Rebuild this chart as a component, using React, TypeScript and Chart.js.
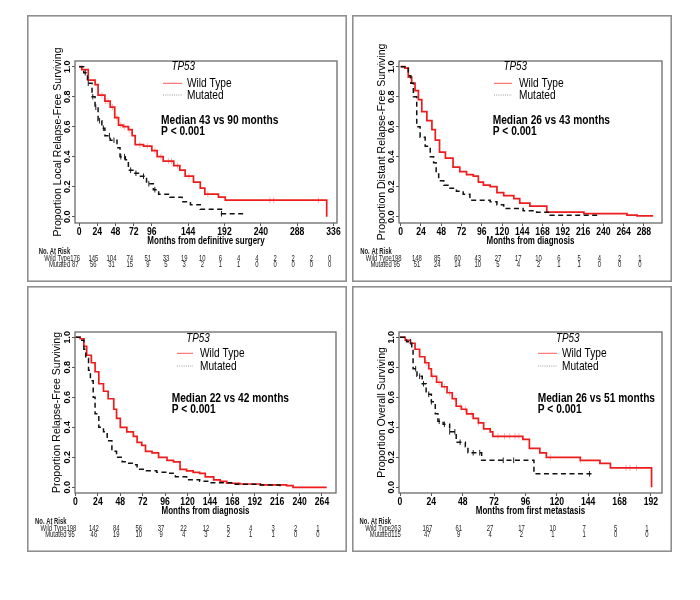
import React, { useEffect, useRef } from "react";
import { Chart, registerables } from "chart.js";

Chart.register(...registerables);

const FONT = '"Liberation Sans", Arial, Helvetica, sans-serif';
const RED = "#ee1c1c";
const BLACK = "#111111";

// ---------- Panel 1: local relapse-free ----------
const p1WildTime = [0, 3.5, 12, 21, 25, 34, 41, 47, 52, 58, 65, 70, 74, 85, 96, 103, 111, 125, 133, 140, 151, 160, 166, 184, 193, 327];
const p1WildSurv = [1, 0.98, 0.91, 0.88, 0.81, 0.77, 0.73, 0.66, 0.61, 0.6, 0.58, 0.54, 0.48, 0.47, 0.44, 0.4, 0.37, 0.34, 0.31, 0.27, 0.23, 0.19, 0.15, 0.13, 0.11, 0];
const p1MutTime = [0, 6, 11, 17, 21, 25, 30, 34, 41, 50, 54, 61, 65, 72, 81, 89, 98, 105, 120, 136, 147, 160, 188, 221];
const p1MutSurv = [1, 0.96, 0.89, 0.8, 0.73, 0.64, 0.59, 0.54, 0.51, 0.46, 0.4, 0.38, 0.31, 0.29, 0.27, 0.22, 0.18, 0.15, 0.13, 0.1, 0.08, 0.05, 0.02, 0.02];
const p1WildCensor = [30, 35, 38, 44, 50, 55, 60, 66, 80, 90, 100, 108, 118, 122, 130, 145, 170, 252, 257, 316];
const p1MutCensor = [8, 12, 18, 22, 27, 32, 40, 46, 55, 60, 68, 75, 85, 92, 100, 188];
const p1Ticks = [0, 24, 48, 72, 96, 144, 192, 240, 288, 336];
const p1RiskTimes = [0, 24, 48, 72, 96, 120, 144, 168, 192, 216, 240, 264, 288, 312, 336];
const p1RiskWild = [176, 145, 104, 74, 51, 33, 19, 10, 6, 4, 4, 2, 2, 2, 0];
const p1RiskMut = [87, 56, 31, 15, 9, 5, 3, 2, 1, 1, 0, 0, 0, 0, 0];

// ---------- Panel 2: distant relapse-free ----------
const p2WildTime = [0, 5, 9, 13, 17, 21, 25, 31, 37, 41, 46, 53, 62, 70, 78, 86, 92, 98, 106, 114, 122, 134, 141, 153, 161, 173, 181, 217, 248, 268, 280, 298];
const p2WildSurv = [1, 0.99, 0.93, 0.89, 0.84, 0.78, 0.7, 0.64, 0.58, 0.51, 0.43, 0.39, 0.33, 0.3, 0.28, 0.27, 0.23, 0.21, 0.2, 0.16, 0.14, 0.12, 0.09, 0.07, 0.07, 0.03, 0.03, 0.02, 0.02, 0.01, 0.005, 0];
const p2MutTime = [0, 3, 9, 12, 15, 19, 23, 29, 35, 39, 42, 45, 51, 57, 66, 74, 82, 106, 114, 122, 145, 161, 177, 236];
const p2MutSurv = [1, 1, 0.94, 0.89, 0.8, 0.6, 0.53, 0.47, 0.4, 0.36, 0.29, 0.24, 0.21, 0.19, 0.17, 0.15, 0.11, 0.1, 0.08, 0.055, 0.04, 0.03, 0.01, 0.01];
const p2WildCensor: number[] = [];
const p2MutCensor: number[] = [];
const p2Ticks = [0, 24, 48, 72, 96, 120, 144, 168, 192, 216, 240, 264, 288];
const p2RiskTimes = [0, 24, 48, 72, 96, 120, 144, 168, 192, 216, 240, 264, 288];
const p2RiskWild = [198, 148, 85, 60, 43, 27, 17, 10, 6, 5, 4, 2, 1];
const p2RiskMut = [95, 51, 24, 14, 10, 5, 4, 2, 1, 1, 0, 0, 0];

// ---------- Panel 3: relapse-free ----------
const p3WildTime = [0, 5, 9, 12, 17, 21, 25, 30, 35, 41, 44, 48, 55, 62, 66, 71, 75, 82, 89, 98, 105, 112, 119, 126, 133, 139, 148, 155, 162, 176, 198, 226, 233, 269];
const p3WildSurv = [1, 0.99, 0.94, 0.88, 0.83, 0.77, 0.69, 0.64, 0.59, 0.52, 0.46, 0.4, 0.37, 0.34, 0.3, 0.28, 0.24, 0.23, 0.2, 0.18, 0.17, 0.12, 0.11, 0.1, 0.093, 0.07, 0.05, 0.04, 0.027, 0.022, 0.016, 0.011, 0, 0];
const p3MutTime = [0, 5, 9, 11, 14, 16, 19, 21, 25, 30, 34, 39, 44, 50, 55, 62, 66, 76, 87, 101, 107, 119, 133, 144, 169, 198, 219];
const p3MutSurv = [1, 0.98, 0.92, 0.86, 0.78, 0.71, 0.6, 0.49, 0.4, 0.37, 0.31, 0.24, 0.2, 0.17, 0.16, 0.15, 0.12, 0.11, 0.1, 0.093, 0.07, 0.05, 0.04, 0.03, 0.02, 0.016, 0.005];
const p3WildCensor: number[] = [];
const p3MutCensor: number[] = [];
const p3Ticks = [0, 24, 48, 72, 96, 120, 144, 168, 192, 216, 240, 264];
const p3RiskTimes = [0, 24, 48, 72, 96, 120, 144, 168, 192, 216, 240, 264];
const p3RiskWild = [198, 142, 84, 56, 37, 22, 12, 5, 4, 3, 2, 1];
const p3RiskMut = [95, 46, 19, 10, 9, 4, 3, 2, 1, 1, 0, 0];

// ---------- Panel 4: overall survival ----------
const p4WildTime = [0, 4, 8, 11.5, 15, 19, 22, 24, 28, 32, 36, 40, 43, 47, 51, 56, 60, 64, 69, 71, 94, 99, 107, 112, 138, 153, 161, 192.5];
const p4WildSurv = [1, 0.98, 0.96, 0.92, 0.87, 0.83, 0.79, 0.74, 0.7, 0.67, 0.63, 0.59, 0.54, 0.52, 0.49, 0.46, 0.43, 0.39, 0.37, 0.34, 0.32, 0.26, 0.23, 0.2, 0.18, 0.16, 0.13, 0];
const p4MutTime = [0, 5, 9, 10, 13, 17, 20, 24, 27, 29, 33, 38, 43, 50, 52, 62.5, 102.5, 148];
const p4MutSurv = [1, 0.97, 0.92, 0.79, 0.74, 0.69, 0.62, 0.57, 0.49, 0.44, 0.42, 0.37, 0.3, 0.27, 0.23, 0.18, 0.09, 0.09];
const p4WildCensor = [20, 25, 30, 34, 38, 42, 46, 50, 55, 60, 75, 80, 84, 88, 91, 115, 138, 173, 176, 181];
const p4MutCensor = [8, 12, 15, 18, 22, 24, 30, 34, 38, 42, 46, 56, 61, 79, 87, 145];
const p4Ticks = [0, 24, 48, 72, 96, 120, 144, 168, 192];
const p4RiskTimes = [0, 24, 48, 72, 96, 120, 144, 168, 192];
const p4RiskWild = [263, 167, 61, 27, 17, 10, 7, 5, 1];
const p4RiskMut = [115, 47, 9, 4, 2, 1, 1, 0, 0];

const yTicks = [0, 0.2, 0.4, 0.6, 0.8, 1.0];

type Rect = { x: number; y: number; w: number; h: number };
type PanelCfg = {
  id: string;
  frame: Rect;
  box: { l: number; t: number; r: number; b: number };
  xMin: number; xMax: number; yMin: number; yMax: number;
  yTitle: string; xTitle: string; median: string;
  wildTime: number[]; wildSurv: number[]; mutTime: number[]; mutSurv: number[];
  wildCensor: number[]; mutCensor: number[];
  ticks: number[]; riskTimes: number[]; riskWild: number[]; riskMut: number[];
  leg: { tpX: number; tpY: number; lx0: number; lx1: number; tx: number; y1: number; y2: number; mx: number; my: number; py: number };
  yTitlePad: number;
};

const panels: PanelCfg[] = [
  {
    id: "p1", frame: { x: 27, y: 15, w: 320, h: 267 }, box: { l: 75, t: 61, r: 337, b: 223 },
    xMin: -5.5, xMax: 340.6, yMin: -0.042, yMax: 1.038,
    yTitle: "Proportion Local Relapse-Free Surviving", xTitle: "Months from definitive surgery", median: "Median 43 vs 90 months",
    wildTime: p1WildTime, wildSurv: p1WildSurv, mutTime: p1MutTime, mutSurv: p1MutSurv,
    wildCensor: p1WildCensor, mutCensor: p1MutCensor, ticks: p1Ticks, riskTimes: p1RiskTimes, riskWild: p1RiskWild, riskMut: p1RiskMut,
    leg: { tpX: 183.3, tpY: 66.7, lx0: 163, lx1: 182, tx: 187, y1: 83.3, y2: 95, mx: 161, my: 120.7, py: 131.7 },
    yTitlePad: 25,
  },
  {
    id: "p2", frame: { x: 352, y: 15, w: 320, h: 267 }, box: { l: 399, t: 61, r: 662, b: 223 },
    xMin: -2, xMax: 309.5, yMin: -0.042, yMax: 1.038,
    yTitle: "Proportion Distant Relapse-Free Surviving", xTitle: "Months from diagnosis", median: "Median 26 vs 43 months",
    wildTime: p2WildTime, wildSurv: p2WildSurv, mutTime: p2MutTime, mutSurv: p2MutSurv,
    wildCensor: p2WildCensor, mutCensor: p2MutCensor, ticks: p2Ticks, riskTimes: p2RiskTimes, riskWild: p2RiskWild, riskMut: p2RiskMut,
    leg: { tpX: 515.3, tpY: 66.7, lx0: 494, lx1: 512, tx: 519, y1: 83.3, y2: 95, mx: 492.7, my: 120.7, py: 131.7 },
    yTitlePad: 24,
  },
  {
    id: "p3", frame: { x: 27, y: 286, w: 320, h: 266 }, box: { l: 75, t: 332, r: 336, b: 493 },
    xMin: -0.5, xMax: 279, yMin: -0.038, yMax: 1.035,
    yTitle: "Proportion Relapse-Free Surviving", xTitle: "Months from diagnosis", median: "Median 22 vs 42 months",
    wildTime: p3WildTime, wildSurv: p3WildSurv, mutTime: p3MutTime, mutSurv: p3MutSurv,
    wildCensor: p3WildCensor, mutCensor: p3MutCensor, ticks: p3Ticks, riskTimes: p3RiskTimes, riskWild: p3RiskWild, riskMut: p3RiskMut,
    leg: { tpX: 198, tpY: 338.3, lx0: 177, lx1: 193, tx: 200, y1: 353.3, y2: 366, mx: 171.7, my: 398.7, py: 410 },
    yTitlePad: 24,
  },
  {
    id: "p4", frame: { x: 352, y: 286, w: 320, h: 266 }, box: { l: 399, t: 332, r: 662, b: 493 },
    xMin: -0.77, xMax: 200.5, yMin: -0.038, yMax: 1.035,
    yTitle: "Proportion Overall Surviving", xTitle: "Months from first metastasis", median: "Median 26 vs 51 months",
    wildTime: p4WildTime, wildSurv: p4WildSurv, mutTime: p4MutTime, mutSurv: p4MutSurv,
    wildCensor: p4WildCensor, mutCensor: p4MutCensor, ticks: p4Ticks, riskTimes: p4RiskTimes, riskWild: p4RiskWild, riskMut: p4RiskMut,
    leg: { tpX: 567.8, tpY: 338.3, lx0: 538, lx1: 557, tx: 562, y1: 353.3, y2: 366, mx: 537.7, my: 398.7, py: 410 },
    yTitlePad: 24,
  },
];

function survAt(times: number[], surv: number[], t: number) {
  let s = surv[0];
  for (let i = 0; i < times.length; i++) if (times[i] <= t) s = surv[i];
  return s;
}

const X_AXIS_H = 34;

// Draws horizontally condensed text (the reference's type is narrow)
function cText(ctx: CanvasRenderingContext2D, text: string, x: number, y: number, align: CanvasTextAlign, sx: number) {
  ctx.save();
  ctx.translate(x, y);
  ctx.scale(sx, 1);
  ctx.textAlign = align;
  ctx.textBaseline = "middle";
  ctx.fillText(text, 0, 0);
  ctx.restore();
}

function makeDecor(p: PanelCfg) {
  return {
    id: "decor_" + p.id,
    afterDraw(chart: any) {
      const ctx: CanvasRenderingContext2D = chart.ctx;
      const a = chart.chartArea;
      const xs = chart.scales.x;
      const ys = chart.scales.y;
      const ox = p.frame.x;
      const oy = p.frame.y;
      ctx.save();
      // plot box
      ctx.strokeStyle = "#6b6b6b";
      ctx.lineWidth = 1.3;
      ctx.strokeRect(a.left, a.top, a.right - a.left, a.bottom - a.top);
      // outer frame
      ctx.strokeStyle = "#8f8f8f";
      ctx.lineWidth = 1.6;
      ctx.strokeRect(0.8, 0.8, chart.width - 1.6, chart.height - 1.6);

      // rotated y tick labels
      ctx.fillStyle = "#000";
      ctx.font = `bold 9px ${FONT}`;
      ctx.textAlign = "center";
      ctx.textBaseline = "middle";
      ys.ticks.forEach((t: any) => {
        const py = ys.getPixelForValue(t.value);
        ctx.save();
        ctx.translate(a.left - 7, py);
        ctx.rotate(-Math.PI / 2);
        ctx.fillText(Number(t.value).toFixed(1), 0, 0);
        ctx.restore();
      });

      // x tick labels and x title (condensed type)
      ctx.font = `bold 10.5px ${FONT}`;
      xs.ticks.forEach((t: any) => {
        cText(ctx, String(t.value), xs.getPixelForValue(t.value), a.bottom + 9.3, "center", 0.82);
      });
      ctx.font = `bold 10px ${FONT}`;
      cText(ctx, p.xTitle, (a.left + a.right) / 2, a.bottom + 17.8, "center", 0.8);

      // legend
      const L = p.leg;
      ctx.font = `italic 13px ${FONT}`;
      cText(ctx, "TP53", L.tpX - ox, L.tpY - oy, "center", 0.76);
      ctx.lineWidth = 1;
      ctx.strokeStyle = "#ff5a5a";
      ctx.beginPath();
      ctx.moveTo(L.lx0 - ox, L.y1 - oy);
      ctx.lineTo(L.lx1 - ox, L.y1 - oy);
      ctx.stroke();
      ctx.strokeStyle = "#9a9a9a";
      ctx.setLineDash([1, 1.2]);
      ctx.beginPath();
      ctx.moveTo(L.lx0 - ox, L.y2 - oy);
      ctx.lineTo(L.lx1 - ox, L.y2 - oy);
      ctx.stroke();
      ctx.setLineDash([]);
      ctx.font = `13px ${FONT}`;
      cText(ctx, "Wild Type", L.tx - ox, L.y1 - oy, "left", 0.78);
      cText(ctx, "Mutated", L.tx - ox, L.y2 - oy, "left", 0.78);
      ctx.font = `bold 12px ${FONT}`;
      cText(ctx, p.median, L.mx - ox, L.my - oy, "left", 0.85);
      cText(ctx, "P < 0.001", L.mx - ox, L.py - oy, "left", 0.85);

      // number at risk table
      ctx.fillStyle = "#1a1a1a";
      const x0 = xs.getPixelForValue(0);
      const r0 = a.bottom + 28.5;
      const r1 = a.bottom + 35;
      const r2 = a.bottom + 41;
      const sx = 0.62;
      ctx.font = `bold 9.5px ${FONT}`;
      cText(ctx, "No. At Risk", x0 - 9, r0, "right", sx);
      ctx.font = `9.5px ${FONT}`;
      cText(ctx, "Wild Type", x0 - 9, r1, "right", sx);
      cText(ctx, "Mutated", x0 - 9, r2, "right", sx);
      p.riskTimes.forEach((t, i) => {
        const px = xs.getPixelForValue(t) - 4;
        cText(ctx, String(p.riskWild[i]), px, r1, "center", sx);
        cText(ctx, String(p.riskMut[i]), px, r2, "center", sx);
      });
      ctx.restore();
    },
  };
}

function buildConfig(p: PanelCfg): any {
  const box = { l: p.box.l - p.frame.x, t: p.box.t - p.frame.y, r: p.box.r - p.frame.x, b: p.box.b - p.frame.y };
  const wildPts = p.wildTime.map((t, i) => ({ x: t, y: p.wildSurv[i] }));
  const mutPts = p.mutTime.map((t, i) => ({ x: t, y: p.mutSurv[i] }));
  const wildC = p.wildCensor.map((t) => ({ x: t, y: survAt(p.wildTime, p.wildSurv, t) }));
  const mutC = p.mutCensor.map((t) => ({ x: t, y: survAt(p.mutTime, p.mutSurv, t) }));
  const gridOpts = { display: true, drawOnChartArea: false, drawTicks: true, tickLength: 3, color: "#555", lineWidth: 1 };
  return {
    type: "scatter",
    data: {
      datasets: [
        { type: "scatter", data: wildC, showLine: false, pointStyle: "line", pointRotation: 90, pointRadius: 3, pointBorderColor: "rgba(255,110,110,0.55)", borderColor: "rgba(255,110,110,0.55)", pointBorderWidth: 1, order: 4 },
        { type: "line", data: wildPts, borderColor: RED, borderWidth: 1.7, stepped: true, pointRadius: 0, fill: false, order: 3 },
        { type: "scatter", data: mutC, showLine: false, pointStyle: "line", pointRotation: 90, pointRadius: 2.8, pointBorderColor: "#222", borderColor: "#222", pointBorderWidth: 1, order: 2 },
        { type: "line", data: mutPts, borderColor: BLACK, borderWidth: 1.5, borderDash: [5, 3.5], stepped: true, pointRadius: 0, fill: false, order: 1 },
      ],
    },
    options: {
      animation: false,
      responsive: false,
      events: [],
      layout: { autoPadding: false, padding: { left: 0, top: box.t, right: p.frame.w - box.r, bottom: p.frame.h - box.b - X_AXIS_H } },
      plugins: { legend: { display: false }, tooltip: { enabled: false }, title: { display: false } },
      scales: {
        x: {
          type: "linear", min: p.xMin, max: p.xMax,
          afterBuildTicks: (s: any) => { s.ticks = p.ticks.map((v) => ({ value: v })); },
          afterFit: (s: any) => { s.height = X_AXIS_H; },
          grid: gridOpts,
          border: { display: false },
          ticks: { display: false },
          title: { display: false },
        },
        y: {
          type: "linear", min: p.yMin, max: p.yMax,
          afterBuildTicks: (s: any) => { s.ticks = yTicks.map((v) => ({ value: v })); },
          afterFit: (s: any) => { s.width = box.l; },
          grid: gridOpts,
          border: { display: false },
          ticks: { display: false },
          title: { display: true, text: p.yTitle, color: "#000", font: { family: FONT, size: 10.5 }, padding: { top: p.yTitlePad, bottom: 0 } },
        },
      },
    },
    plugins: [makeDecor(p)],
  };
}

function KMPanel({ cfg }: { cfg: PanelCfg }) {
  const ref = useRef<HTMLCanvasElement>(null);
  useEffect(() => {
    const c = ref.current;
    if (!c) return;
    const chart = new Chart(c, buildConfig(cfg));
    return () => chart.destroy();
  }, [cfg]);
  return (
    <canvas
      ref={ref}
      width={cfg.frame.w}
      height={cfg.frame.h}
      style={{ position: "absolute", left: cfg.frame.x, top: cfg.frame.y, width: cfg.frame.w, height: cfg.frame.h }}
    />
  );
}

export default function App() {
  return (
    <div style={{ position: "absolute", left: 0, top: 0, width: 700, height: 600, background: "#fff" }}>
      {panels.map((p) => (
        <KMPanel key={p.id} cfg={p} />
      ))}
    </div>
  );
}
